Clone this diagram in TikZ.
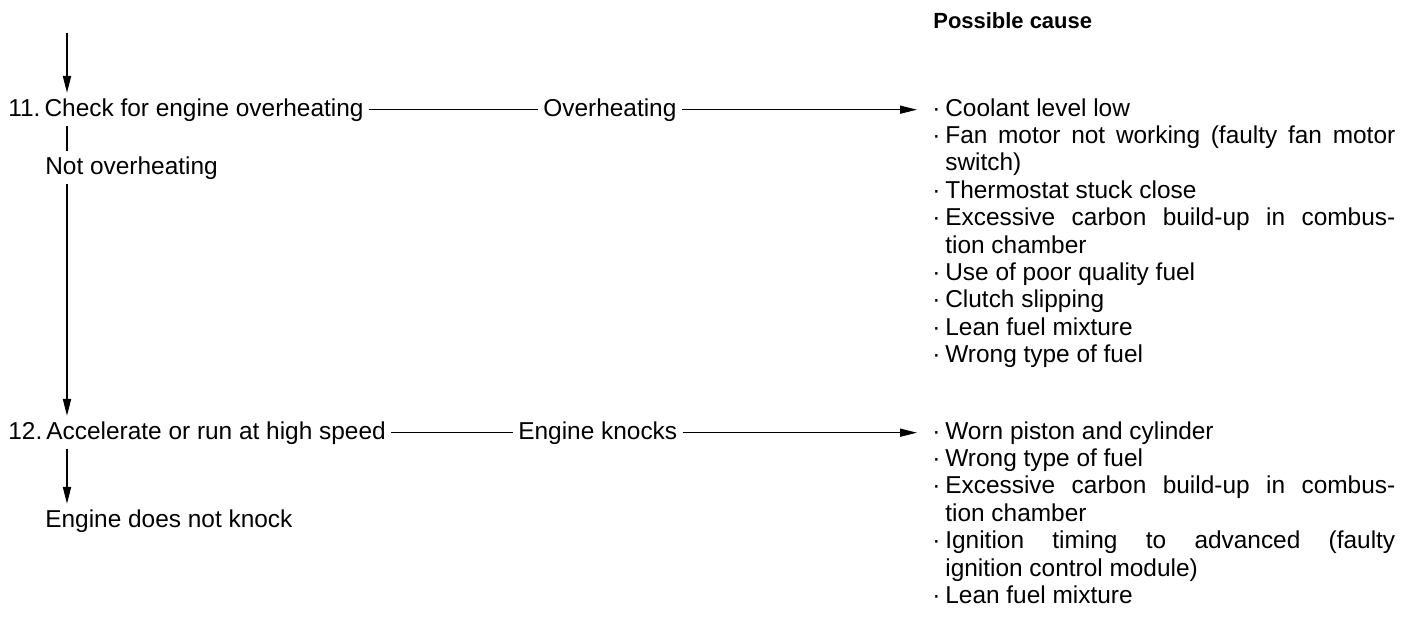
\documentclass[tikz,border=0pt]{standalone}
\usepackage{fontspec}
\setmainfont{Liberation Sans}
\usepackage{tikz}
\usetikzlibrary{arrows.meta,positioning}

\newcommand{\cause}[1]{\hangindent=0.26cm\hangafter=1\noindent\makebox[0.26cm][l]{·}#1\par}

\begin{document}
\begin{tikzpicture}[x=0.02cm, y=-0.02cm,
  every node/.style={inner sep=0.1cm, font=\fontsize{13.9}{15.6}\selectfont},
  flow/.style={-{Triangle[length=0.34cm,width=0.16cm]}, line width=1pt},
  link/.style={line width=0.8pt},
  causes/.style={text width=9.26cm, align=justify, inner sep=0pt, anchor=base west}]
\useasboundingbox (0,0) rectangle (1410,622);

\node[font=\bfseries\fontsize{12.5}{15}\selectfont, anchor=west] (head) at (928,21) {Possible cause};

% step 11
\coordinate (start) at (67,33);
\node[anchor=base west] (step11) at (3,116) {11.\,Check for engine overheating};
\node[anchor=base west] (notover) at (40,174) {Not overheating};
\node[anchor=base west] (overheat) at (538,116) {Overheating};
\node[causes] (causeA) at (932,116) {%
\cause{Coolant level low}%
\cause{Fan motor not working (faulty fan motor\linebreak switch)}%
\cause{Thermostat stuck close}%
\cause{Excessive carbon build-up in combus-\linebreak tion chamber}%
\cause{Use of poor quality fuel}%
\cause{Clutch slipping}%
\cause{Lean fuel mixture}%
\cause{Wrong type of fuel}};

% step 12
\node[anchor=base west] (step12) at (3,439) {12.\,Accelerate or run at high speed};
\node[anchor=base west] (noknock) at (40,527) {Engine does not knock};
\node[anchor=base west] (knock) at (513,439) {Engine knocks};
\node[causes] (causeB) at (932,439) {%
\cause{Worn piston and cylinder}%
\cause{Wrong type of fuel}%
\cause{Excessive carbon build-up in combus-\linebreak tion chamber}%
\cause{Ignition timing to advanced (faulty\linebreak ignition control module)}%
\cause{Lean fuel mixture}};

\draw[flow] (start) -- (start |- step11.north);
\draw[link, line width=1pt] (start |- step11.south) -- (start |- notover.north);
\draw[flow] (start |- notover.south) -- (start |- step12.north);
\draw[flow] (start |- step12.south) -- (start |- noknock.north);

\draw[link] (step11.east) -- (overheat.west);
\draw[flow, line width=0.8pt] (overheat.east) -- ([xshift=-0.3cm]overheat.east -| causeA.west);
\draw[link] (step12.east) -- (knock.west);
\draw[flow, line width=0.8pt] (knock.east) -- ([xshift=-0.3cm]knock.east -| causeB.west);
\end{tikzpicture}
\end{document}
